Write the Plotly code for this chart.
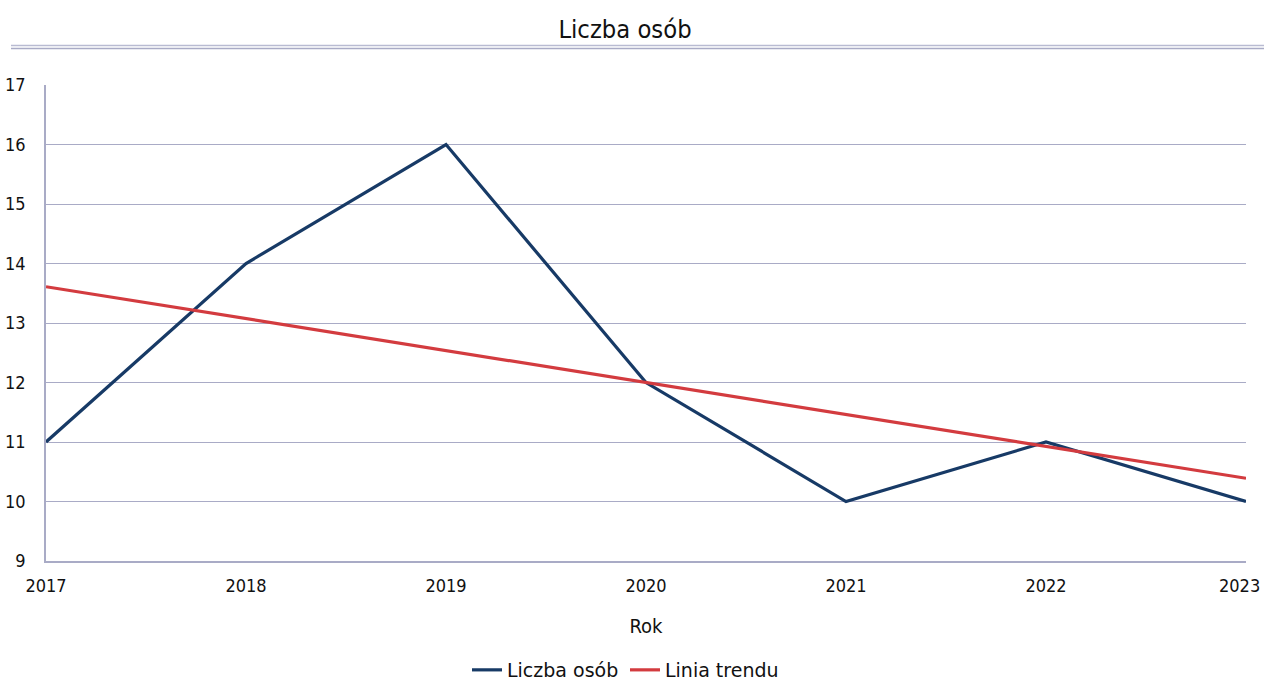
import plotly.graph_objects as go

years = [2017, 2018, 2019, 2020, 2021, 2022, 2023]
liczba = [11, 14, 16, 12, 10, 11, 10]
trend_years = [2017, 2023]
trend_vals = [13.61, 10.39]
y_ticks = [9, 10, 11, 12, 13, 14, 15, 16, 17]
x_labels = [str(y) for y in years]

FONT = "DejaVu Sans Condensed, Open Sans, DejaVu Sans"
LEG_FONT = "DejaVu Sans"
W, H = 1264, 681
L, R, T, B = 46, 1246, 85, 561
GRID = "#a9abc6"

fig = go.Figure()
fig.add_trace(go.Scatter(x=years, y=liczba, mode="lines", name="Liczba osób",
                         line=dict(color="#173a66", width=3.2)))
fig.add_trace(go.Scatter(x=trend_years, y=trend_vals, mode="lines", name="Linia trendu",
                         line=dict(color="#d33b3f", width=3.2)))

def px2paper_x(px):
    return (px - L) / (R - L)

def px2paper_y(py):
    return (B - py) / (B - T)

shapes = []
for py, col in ((45.5, "#b9bbd2"), (48.5, "#a9abc6")):
    shapes.append(dict(type="line", xref="paper", yref="paper",
                       x0=px2paper_x(11), x1=px2paper_x(1264),
                       y0=px2paper_y(py), y1=px2paper_y(py),
                       line=dict(color=col, width=1.6)))

# last tick label drawn right-aligned at the edge (as in the reference) so it stays inside the page
tick_text = x_labels[:-1] + [""]
annotations = [dict(text=x_labels[-1], x=years[-1], xref="x", xanchor="right", xshift=16,
                    y=px2paper_y(585), yref="paper", yanchor="middle", showarrow=False,
                    font=dict(family=FONT, size=18, color="#111111"))]

fig.update_layout(
    width=W, height=H,
    margin=dict(l=L, r=W - R, t=T, b=H - B, autoexpand=False),
    paper_bgcolor="white", plot_bgcolor="white",
    font=dict(family=FONT, color="#111111"),
    title=dict(text="Liczba osób", x=(558 + 692) / 2 / W, xanchor="center", xref="container",
               y=1 - 29 / H, yanchor="middle",
               font=dict(family=FONT, size=25.3, color="#111111")),
    shapes=shapes,
    annotations=annotations,
    showlegend=True,
    legend=dict(orientation="h", xref="container", yref="container",
                x=467 / W, xanchor="left", y=1 - 670 / H, yanchor="middle",
                font=dict(family=LEG_FONT, size=19, color="#111111"),
                entrywidth=113, entrywidthmode="pixels"),
    xaxis=dict(range=[2017, 2023], tickvals=years, ticktext=tick_text,
               showgrid=False, zeroline=False, showline=True, linecolor=GRID, linewidth=1.5,
               ticks="", ticklabelstandoff=8, automargin=False, ticklabeloverflow="allow",
               tickfont=dict(family=FONT, size=18, color="#111111"),
               title=dict(text="Rok", font=dict(family=FONT, size=20, color="#111111"), standoff=24)),
    yaxis=dict(range=[9, 17], tickvals=y_ticks, showgrid=True, gridcolor=GRID, gridwidth=1.3,
               zeroline=False, showline=True, linecolor=GRID, linewidth=1.5, ticks="",
               ticklabelstandoff=15, automargin=False, ticklabeloverflow="allow",
               tickfont=dict(family=FONT, size=18, color="#111111")),
)

fig.write_html("out.html",
               config={"displayModeBar": False},
               post_script="document.documentElement.style.margin='0';"
                           "document.body.style.margin='0';"
                           "document.body.style.overflow='hidden';")
